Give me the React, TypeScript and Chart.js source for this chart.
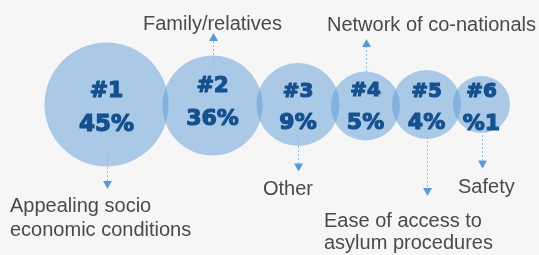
import React, { useEffect, useRef } from "react";
import { Chart, registerables } from "chart.js";

Chart.register(...registerables);

// ---- data ----
const ranks = ["#1", "#2", "#3", "#4", "#5", "#6"];
const shares = ["45%", "36%", "9%", "5%", "4%", "%1"];
const reasons = [
  ["Appealing socio", "economic conditions"],
  ["Family/relatives"],
  ["Other"],
  ["Network of co-nationals"],
  ["Ease of access to", "asylum procedures"],
  ["Safety"],
];
const bubbleX = [106.5, 212.5, 298, 365.5, 426.5, 481.5];
const bubbleY = [104.5, 105.5, 104.5, 106, 104.5, 104.5];
const bubbleR = [62, 50, 41.5, 34.5, 34.5, 28.5];

// ---- layout (annotation geometry, chart units) ----
const rankOffset = [-7.5, -13.5, -8, -10, -7.5, -7.5];
const shareOffset = [26.5, 19.5, 24.5, 23, 24.5, 25.5];
const rankFont = [22, 21, 20, 20, 20, 20];
const shareFont = [23, 22, 22, 22, 22, 22];
const arrowFrom = [155, 67, 138, 72, 137, 135];
const arrowTip = [189, 33, 171.5, 39, 196, 168.5];
const labelX = [10, 143, 263, 327, 324, 458];
const labelY = [212, 30, 195, 31, 227, 193];
const lineGap = [24, 0, 0, 0, 21.5, 0];

const BG = "#f6f6f6";

const annotations = {
  id: "annotations",
  afterDatasetsDraw(chart: any) {
    const ctx = chart.ctx as CanvasRenderingContext2D;
    const xs = chart.scales.x;
    const ys = chart.scales.y;
    const meta = chart.getDatasetMeta(0);
    ctx.save();
    meta.data.forEach((el: any, i: number) => {
      const cx = el.x;
      const cy = el.y;
      // arrow
      const y0 = ys.getPixelForValue(arrowFrom[i]);
      const yt = ys.getPixelForValue(arrowTip[i]);
      const dir = yt > y0 ? 1 : -1;
      const head = 8;
      const ax = Math.round(cx) + 0.5;
      ctx.strokeStyle = "#8dbbe6";
      ctx.lineWidth = 1;
      ctx.setLineDash([2, 2]);
      ctx.beginPath();
      ctx.moveTo(ax, y0);
      ctx.lineTo(ax, yt - dir * head);
      ctx.stroke();
      ctx.setLineDash([]);
      ctx.fillStyle = "#5b9bd5";
      ctx.beginPath();
      ctx.moveTo(ax, yt);
      ctx.lineTo(ax - 4.5, yt - dir * head);
      ctx.lineTo(ax + 4.5, yt - dir * head);
      ctx.closePath();
      ctx.fill();

      // text inside bubble
      ctx.fillStyle = "#15508f";
      ctx.strokeStyle = "#15508f";
      ctx.lineWidth = 1.2;
      ctx.lineJoin = "round";
      ctx.textAlign = "center";
      ctx.textBaseline = "alphabetic";
      ctx.font = `bold ${rankFont[i]}px "DejaVu Sans", sans-serif`;
      ctx.fillText(ranks[i], cx, cy + rankOffset[i]);
      ctx.strokeText(ranks[i], cx, cy + rankOffset[i]);
      ctx.font = `bold ${shareFont[i]}px "DejaVu Sans", sans-serif`;
      ctx.fillText(shares[i], cx, cy + shareOffset[i]);
      ctx.strokeText(shares[i], cx, cy + shareOffset[i]);

      // outer label
      ctx.fillStyle = "#4a4a4a";
      ctx.textAlign = "left";
      ctx.font = `20px "Liberation Sans", Arial, sans-serif`;
      const lx = xs.getPixelForValue(labelX[i]);
      reasons[i].forEach((line, k) => {
        const ly = ys.getPixelForValue(labelY[i] + k * lineGap[i]);
        ctx.fillText(line, lx, ly);
      });
    });
    ctx.restore();
  },
};

export default function App() {
  const ref = useRef<HTMLCanvasElement>(null);
  useEffect(() => {
    if (!ref.current) return;
    const chart = new Chart(ref.current, {
      type: "bubble",
      data: {
        datasets: [
          {
            data: bubbleX.map((x, i) => ({ x, y: bubbleY[i], r: bubbleR[i] })),
            backgroundColor: "rgba(91,155,213,0.5)",
            borderWidth: 0,
            hoverBorderWidth: 0,
            clip: false as any,
          },
        ],
      },
      options: {
        animation: false,
        responsive: false,
        events: [],
        layout: { padding: 0, autoPadding: false },
        scales: {
          x: { type: "linear", min: 0, max: 539, display: false },
          y: { type: "linear", min: 0, max: 255, reverse: true, display: false },
        },
        plugins: { legend: { display: false }, tooltip: { enabled: false } },
      },
      plugins: [annotations],
    });
    return () => chart.destroy();
  }, []);
  return (
    <div style={{ position: "fixed", left: 0, top: 0, width: 539, height: 255, background: BG }}>
      <canvas ref={ref} width={539} height={255} style={{ display: "block", width: 539, height: 255 }} />
    </div>
  );
}
